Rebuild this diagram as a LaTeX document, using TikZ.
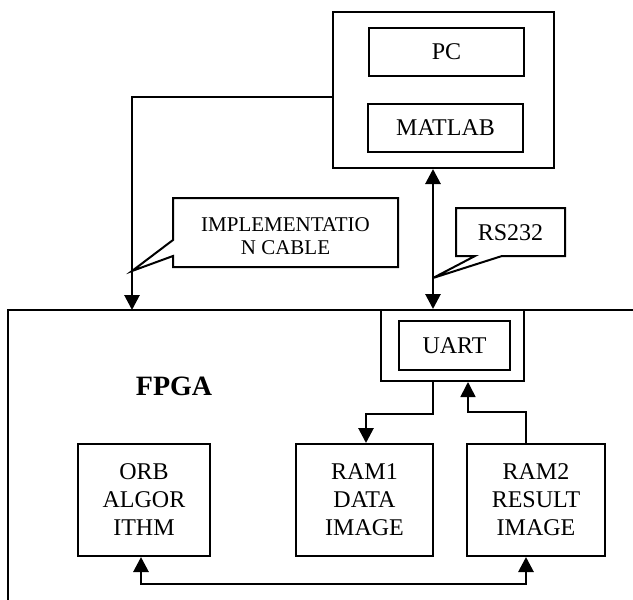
\documentclass[tikz,border=0pt]{standalone}
\usepackage{fontspec}
\setmainfont{Liberation Serif}
\usetikzlibrary{arrows.meta}
\begin{document}
\begin{tikzpicture}[x=0.5pt,y=-0.5pt,
  box/.style={draw,line width=1pt,inner sep=0pt,align=center,
    font=\fontsize{12}{14}\selectfont},
  conn/.style={line width=1.4pt},
  thinconn/.style={line width=0.8pt},
  tip/.style={-{Triangle[length=7.5pt,width=7.5pt]}},
  tips/.style={{Triangle[length=7.5pt,width=7.5pt]}-{Triangle[length=7.5pt,width=7.5pt]}},
  callout/.style={draw,fill=white,line width=1pt}]
\useasboundingbox (0,0) rectangle (633,600);

% FPGA board outline (continues past the right and bottom edges)
\draw[line width=0.8pt] (633,310) -- (8,310) -- (8,600);
\node[font=\fontsize{14}{16}\selectfont\bfseries] (fpga) at (174,386) {FPGA};

% host computer
\node[box,minimum width=110.5pt,minimum height=78pt] (pcbox) at (443.5,90) {};
\node[box,minimum width=77.5pt,minimum height=24pt] (pc) at (446.5,52) {PC};
\node[box,minimum width=77.5pt,minimum height=24pt] (matlab) at (445.5,128) {MATLAB};

% UART block on the board
\node[box,minimum width=71.5pt,minimum height=35.5pt] (uartouter) at (452.5,345.5) {};
\node[box,minimum width=55.5pt,minimum height=24.5pt] (uart) at (454.5,345.5) {UART};

% processing blocks
\node[box,minimum width=66pt,minimum height=56pt] (orb) at (144,500) {ORB\\ALGOR\\ITHM};
\node[box,minimum width=68.5pt,minimum height=56pt] (ram1) at (364.5,500) {RAM1\\DATA\\IMAGE};
\node[box,minimum width=69pt,minimum height=56pt] (ram2) at (536,500) {RAM2\\RESULT\\IMAGE};

% connectors
\coordinate (rsx) at (433,0);
\coordinate (cabletip) at (132,310);
\draw[conn,tip] ([yshift=-3.5pt]pcbox.west) -| (cabletip);
\draw[conn,tips] (pcbox.south -| rsx) -- (uartouter.north -| rsx);
\draw[conn,tip] (uartouter.south -| rsx) -- ++(0,32) -| ([xshift=0.75pt]ram1.north);
\draw[thinconn,tip] ([xshift=-5pt]ram2.north) -- ++(0,-31) -| ([xshift=7.75pt]uartouter.south);
\draw[conn,tips] ([xshift=-1.5pt]orb.south) -- ++(0,27) -| ([xshift=-5pt]ram2.south);

% callouts
\coordinate (cabpt) at (132,271);
\draw[callout] (173,240) -- (173,198) -- (398,198) -- (398,267) -- (173,267) -- (173,256) -- (cabpt) -- cycle;
\node[align=center,font=\fontsize{10.5}{11.5}\selectfont] (cablelbl) at (285.5,236) {IMPLEMENTATIO\\N CABLE};
\coordinate (rspt) at (433,278);
\draw[callout] (502,256) -- (565,256) -- (565,208) -- (456,208) -- (456,256) -- (475,256) -- (rspt) -- cycle;
\node[font=\fontsize{12}{14}\selectfont] (rslbl) at (510.5,233) {RS232};
\end{tikzpicture}
\end{document}
